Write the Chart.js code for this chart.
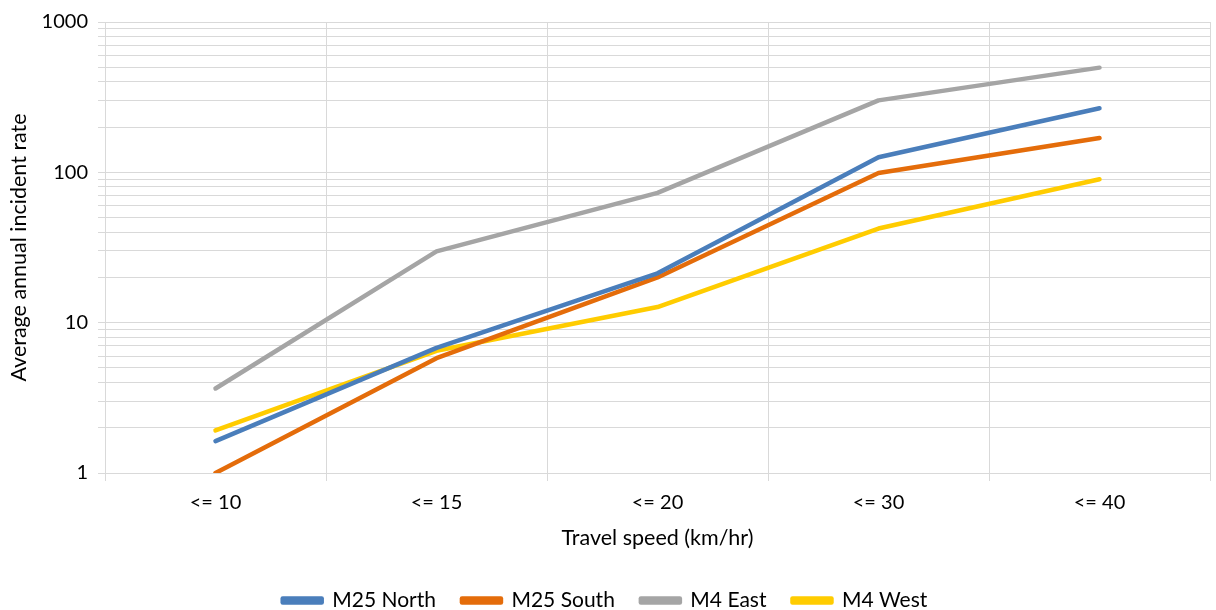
<!DOCTYPE html>
<html>
<head>
<meta charset="utf-8">
<script src="https://cdn.jsdelivr.net/npm/chart.js@4.4.1/dist/chart.umd.min.js"></script>
<style>
html,body{margin:0;padding:0;background:#fff;}
#wrap{width:1216px;height:610px;position:relative;}
</style>
</head>
<body>
<div id="wrap"><canvas id="c" width="1216" height="610"></canvas></div>
<script>
const categories = ["<= 10", "<= 15", "<= 20", "<= 30", "<= 40"];
const m25North = [1.63, 6.8, 21.3, 126, 267];
const m25South = [1.0, 5.8, 20, 99, 169];
const m4East = [3.65, 29.8, 73, 301, 497];
const m4West = [1.92, 6.5, 12.7, 42.3, 90];
const yLabels = [1, 10, 100, 1000];

const FONT = "Lato, 'Open Sans', sans-serif";
const TXT = '#000000';
const GRID = '#d9d9d9';

function ds(label, data, color){
  return {label, data, borderColor: color, backgroundColor: color,
    borderWidth: 4.5, pointRadius: 0, pointHoverRadius: 0, tension: 0,
    borderCapStyle: 'round', borderJoinStyle: 'round', fill: false};
}

new Chart(document.getElementById('c'), {
  type: 'line',
  data: {
    labels: categories,
    datasets: [
      ds('M25 North', m25North, '#4A7EBB'),
      ds('M25 South', m25South, '#E46C0A'),
      ds('M4 East', m4East, '#A5A5A5'),
      ds('M4 West', m4West, '#FFCC00')
    ]
  },
  options: {
    responsive: false,
    animation: false,
    devicePixelRatio: 1,
    layout: {padding: {top: 20, right: 6, left: 0, bottom: -11}},
    plugins: {
      tooltip: {enabled: false},
      legend: {
        position: 'bottom',
        labels: {
          color: TXT, font: {family: FONT, size: 21},
          boxWidth: 39, boxHeight: 4, padding: 26
        }
      }
    },
    scales: {
      x: {
        type: 'category',
        offset: true,
        grid: {offset: true, color: GRID, lineWidth: 1, tickLength: 8, drawTicks: true},
        border: {color: GRID},
        ticks: {color: TXT, font: {family: FONT, size: 20}, padding: 10, maxRotation: 0},
        title: {display: true, text: 'Travel speed (km/hr)', color: TXT,
          font: {family: FONT, size: 21.5}, padding: {top: 0, bottom: 13}},
        afterFit(s){ s.height = 91; }
      },
      y: {
        type: 'logarithmic',
        min: 1, max: 1000,
        grid: {color: GRID, lineWidth: 1, tickLength: 7},
        border: {color: GRID},
        ticks: {
          color: TXT, font: {family: FONT, size: 20}, padding: 10, autoSkip: false,
          callback(v){ return yLabels.includes(v) ? String(v) : ''; }
        },
        afterBuildTicks(s){
          const t = [];
          for (let e = 0; e < 3; e++) for (let m = 1; m < 10; m++) t.push({value: m * Math.pow(10, e)});
          t.push({value: 1000});
          s.ticks = t;
        },
        title: {display: true, text: 'Average annual incident rate', color: TXT,
          font: {family: FONT, size: 21.5}, padding: {top: 6, bottom: 0}},
        afterFit(s){ s.width = 105; }
      }
    }
  }
});
</script>
</body>
</html>
